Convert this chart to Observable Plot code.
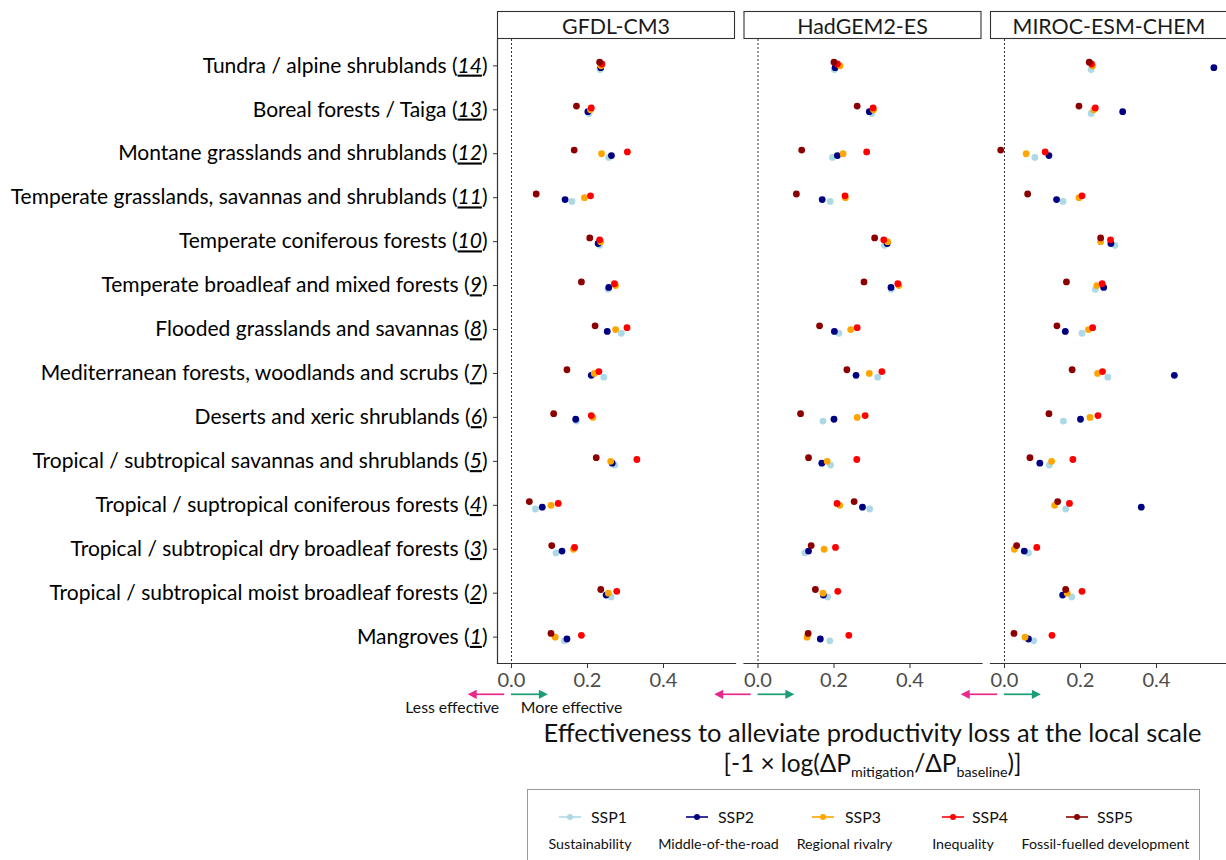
<!DOCTYPE html>
<html><head><meta charset="utf-8">
<script src="https://cdn.jsdelivr.net/npm/d3@7"></script>
<script src="https://cdn.jsdelivr.net/npm/@observablehq/plot@0.6"></script>
<style>
html,body{margin:0;padding:0;overflow:hidden;background:#fff;}
#wrap{position:relative;width:1226px;height:860px;overflow:hidden;font-family:Lato,sans-serif;}
#wrap > svg{max-width:none !important;display:block;}
#legend{position:absolute;left:527px;top:789px;width:673px;height:80px;border:1px solid #9a9a9a;box-sizing:border-box;}
.lg{position:absolute;white-space:nowrap;color:#111;}
</style></head><body><div id="wrap"></div>
<script>
// ---------- data ----------
const models = ["GFDL-CM3", "HadGEM2-ES", "MIROC-ESM-CHEM"];
const biomeNames = ["Tundra / alpine shrublands","Boreal forests / Taiga","Montane grasslands and shrublands","Temperate grasslands, savannas and shrublands","Temperate coniferous forests","Temperate broadleaf and mixed forests","Flooded grasslands and savannas","Mediterranean forests, woodlands and scrubs","Deserts and xeric shrublands","Tropical / subtropical savannas and shrublands","Tropical / suptropical coniferous forests","Tropical / subtropical dry broadleaf forests","Tropical / subtropical moist broadleaf forests","Mangroves"];
const biomeIds = [14,13,12,11,10,9,8,7,6,5,4,3,2,1];
const ssps = ["SSP1","SSP2","SSP3","SSP4","SSP5"];
const sspNames = ["Sustainability","Middle-of-the-road","Regional rivalry","Inequality","Fossil-fuelled development"];
const sspColors = ["#ADD8E6","#000080","#FFA500","#FF0000","#8B0000"];
const xTicks = [0, 0.2, 0.4];

// values per biome, in the order of biomeNames (14 -> 1)
const gfdlSSP1 = [0.233,0.204,0.256,0.159,0.232,0.254,0.289,0.243,0.171,0.272,0.063,0.117,0.262,0.139];
const gfdlSSP2 = [0.235,0.201,0.263,0.141,0.228,0.256,0.252,0.210,0.169,0.265,0.081,0.133,0.249,0.146];
const gfdlSSP3 = [0.236,0.208,0.237,0.192,0.235,0.274,0.274,0.218,0.214,0.261,0.104,0.163,0.255,0.115];
const gfdlSSP4 = [0.238,0.210,0.305,0.208,0.232,0.271,0.304,0.230,0.210,0.330,0.123,0.166,0.277,0.184];
const gfdlSSP5 = [0.232,0.171,0.165,0.065,0.206,0.184,0.220,0.146,0.111,0.223,0.047,0.106,0.235,0.104];

const hadSSP1 = [0.201,0.299,0.196,0.190,0.333,0.351,0.213,0.315,0.171,0.191,0.294,0.123,0.183,0.189];
const hadSSP2 = [0.203,0.293,0.209,0.169,0.340,0.350,0.201,0.258,0.200,0.168,0.275,0.133,0.172,0.164];
const hadSSP3 = [0.216,0.304,0.224,0.230,0.341,0.371,0.244,0.293,0.261,0.182,0.215,0.174,0.171,0.129];
const hadSSP4 = [0.209,0.303,0.286,0.229,0.331,0.368,0.261,0.326,0.282,0.260,0.208,0.204,0.210,0.239];
const hadSSP5 = [0.200,0.261,0.115,0.101,0.307,0.279,0.162,0.234,0.112,0.133,0.253,0.140,0.151,0.132];

const mirocSSP1 = [0.228,0.228,0.080,0.154,0.291,0.239,0.204,0.272,0.155,0.118,0.161,0.063,0.177,0.077];
const mirocSSP2 = [0.551,0.311,0.117,0.137,0.280,0.261,0.160,0.447,0.200,0.093,0.360,0.052,0.153,0.063];
const mirocSSP3 = [0.232,0.235,0.057,0.196,0.253,0.243,0.221,0.245,0.225,0.124,0.132,0.026,0.165,0.054];
const mirocSSP4 = [0.229,0.239,0.107,0.204,0.279,0.257,0.232,0.258,0.246,0.180,0.171,0.085,0.204,0.125];
const mirocSSP5 = [0.223,0.196,-0.010,0.061,0.253,0.163,0.138,0.178,0.117,0.067,0.140,0.032,0.161,0.025];

// effectiveness arrows (x extents) and their labels
const lessArrow = [-0.018, -0.114];
const moreArrow = [0, 0.097];
const arrowLabels = ["Less effective", "More effective"];
const axisTitle = "Effectiveness to alleviate productivity loss at the local scale";

// ---------- build table ----------
const seriesByModel = {
  "GFDL-CM3": [gfdlSSP1, gfdlSSP2, gfdlSSP3, gfdlSSP4, gfdlSSP5],
  "HadGEM2-ES": [hadSSP1, hadSSP2, hadSSP3, hadSSP4, hadSSP5],
  "MIROC-ESM-CHEM": [mirocSSP1, mirocSSP2, mirocSSP3, mirocSSP4, mirocSSP5]
};
const biomeLabels = biomeNames.map((n, i) => `${n} (${biomeIds[i]})`);
const rows = [];
for (const m of models) seriesByModel[m].forEach((arr, si) => arr.forEach((v, bi) =>
  rows.push({model: m, ssp: ssps[si], biome: biomeLabels[bi], value: v})));

// ---------- font fitting ----------
const FONT = "Lato";
const ctx = document.createElement("canvas").getContext("2d");
function fit(text, target, style = "") {
  ctx.font = `${style} 100px ${FONT}`;
  return 100 * target / ctx.measureText(text).width;
}
const ySize = fit("Temperate grasslands, savannas and shrublands (11)", 477);
const stripSize = fit("GFDL-CM3", 108);
const tickFont = fit("0.0", 28);
const titleSize = fit(axisTitle, 659);
const effSize = fit("Less effective", 94);
const sspSize = fit("SSP1", 36);
const descSize = fit("Fossil-fuelled development", 168);

// ---------- plot ----------
const W = 1228, H = 780, ML = 497, MT = 39, MB = H - 663;
const dys = [3.7, 1.85, 0, -1.85, -3.7];
const plot = Plot.plot({
  width: W, height: H,
  marginLeft: ML, marginRight: 0, marginTop: MT, marginBottom: MB,
  style: {fontFamily: FONT, color: "#000", background: "transparent", overflow: "visible", maxWidth: "none"},
  fx: {domain: models, paddingInner: 0.0345, paddingOuter: 0, round: false, axis: null, label: null},
  x: {domain: [-0.0368, 0.5895], label: null},
  y: {type: "point", domain: biomeLabels, padding: 0.6, round: false, label: null, axis: null},
  marks: [
    Plot.ruleX([0], {stroke: "#333", strokeWidth: 1, strokeDasharray: "2,2"}),
    Plot.frame({anchor: "bottom", stroke: "#333", strokeWidth: 1.2}),
    Plot.frame({anchor: "left", stroke: "#333", strokeWidth: 1.2, facetAnchor: "left"}),
    Plot.axisY({anchor: "left", tickSize: 4, tickPadding: 6, fontSize: ySize, stroke: "#333", fill: "#000", label: null}),
    Plot.axisX({ticks: xTicks, tickFormat: d3.format(".1f"), tickSize: 5, tickPadding: 4, fontSize: tickFont, stroke: "#333", fill: "#4D4D4D", label: null}),
    ...ssps.map((s, i) => Plot.dot(rows.filter(d => d.ssp === s), {
      x: "value", y: "biome", fx: "model", fill: sspColors[i], r: 3.4, dy: dys[i], stroke: "none"
    }))
  ]
});
plot.style.maxWidth = "none";

const wrap = document.getElementById("wrap");
wrap.appendChild(plot);
const svg = d3.select(plot);

// y tick labels: italic underlined biome number
svg.selectAll('g[aria-label="y-axis tick label"] text').each(function () {
  const t = d3.select(this);
  const s = t.text();
  const m = s.match(/^(.*\()(\d+)(\))$/);
  if (!m) return;
  t.text(null);
  t.append("tspan").text(m[1]);
  t.append("tspan").attr("font-style", "italic").style("text-decoration", "underline").text(m[2]);
  t.append("tspan").text(m[3]);
});

const fx = plot.scale("fx"), xs = plot.scale("x");
const bw = fx.bandwidth;
const xAbs = (m, v) => fx.apply(m) - xs.range[0] + xs.apply(v);

// facet strips
for (const m of models) {
  const x0 = fx.apply(m);
  svg.append("rect").attr("x", x0 + 0.5).attr("y", 11.5).attr("width", bw - 1).attr("height", 27)
    .attr("fill", "#fff").attr("stroke", "#333").attr("stroke-width", 1.1);
  svg.append("text").attr("x", x0 + bw / 2).attr("y", 25.5).attr("text-anchor", "middle")
    .attr("dominant-baseline", "central").attr("font-size", stripSize).attr("fill", "#1a1a1a")
    .attr("font-family", FONT).text(m);
}

// arrows
function arrow(m, a, b, color) {
  const y = 694.3, x1 = xAbs(m, a), x2 = xAbs(m, b);
  const dir = Math.sign(x2 - x1), hl = 9, hw = 4.6;
  svg.append("line").attr("x1", x1).attr("x2", x2 - dir * hl * 0.8).attr("y1", y).attr("y2", y)
    .attr("stroke", color).attr("stroke-width", 1.7);
  svg.append("path").attr("d", `M${x2},${y}L${x2 - dir * hl},${y - hw}L${x2 - dir * hl},${y + hw}Z`).attr("fill", color);
}
for (const m of models) {
  arrow(m, lessArrow[0], lessArrow[1], "#E7298A");
  arrow(m, moreArrow[0], moreArrow[1], "#1B9E77");
}
svg.append("text").attr("x", xAbs(models[0], -0.031)).attr("y", 713.3).attr("text-anchor", "end")
  .attr("font-size", effSize).attr("font-family", FONT).attr("fill", "#111").text(arrowLabels[0]);
svg.append("text").attr("x", xAbs(models[0], 0.026)).attr("y", 713.3).attr("text-anchor", "start")
  .attr("font-size", effSize).attr("font-family", FONT).attr("fill", "#111").text(arrowLabels[1]);

// axis title
const tx = 872.5;
svg.append("text").attr("x", tx).attr("y", 742).attr("text-anchor", "middle").attr("font-size", titleSize)
  .attr("font-family", FONT).attr("fill", "#111").text(axisTitle);
const t2 = svg.append("text").attr("x", tx).attr("y", 772).attr("text-anchor", "middle").attr("font-size", titleSize * 0.96)
  .attr("font-family", FONT).attr("fill", "#111");
t2.append("tspan").text("[-1 × log(ΔP");
t2.append("tspan").attr("dy", 5).attr("font-size", titleSize * 0.56).text("mitigation");
t2.append("tspan").attr("dy", -5).text("/ΔP");
t2.append("tspan").attr("dy", 5).attr("font-size", titleSize * 0.56).text("baseline");
t2.append("tspan").attr("dy", -5).text(")]");

// ---------- legend ----------
const legend = document.createElement("div");
legend.id = "legend";
wrap.appendChild(legend);
const dotX = [568.5, 696, 822, 952, 1076];
const labX = [590, 717, 844, 971, 1096];
const descX = [589, 717.5, 843.5, 962, 1104.5];
const L0 = 527, T0 = 789;
ssps.forEach((s, i) => {
  const sym = document.createElementNS("http://www.w3.org/2000/svg", "svg");
  sym.setAttribute("width", 24); sym.setAttribute("height", 10);
  sym.style.position = "absolute";
  sym.style.left = (dotX[i] - 12 - L0) + "px";
  sym.style.top = (815.5 - 5 - T0) + "px";
  sym.innerHTML = `<line x1="1" x2="23" y1="5" y2="5" stroke="${sspColors[i]}" stroke-width="1.6"/><circle cx="12" cy="5" r="3" fill="${sspColors[i]}"/>`;
  legend.appendChild(sym);
  const lab = document.createElement("div");
  lab.className = "lg"; lab.textContent = s;
  lab.style.left = (labX[i] - L0) + "px";
  lab.style.fontSize = sspSize + "px";
  lab.style.top = (815.5 - T0 - sspSize * 0.6) + "px";
  lab.style.lineHeight = (sspSize * 1.2) + "px";
  legend.appendChild(lab);
  const d = document.createElement("div");
  d.className = "lg"; d.textContent = sspNames[i];
  d.style.fontSize = descSize + "px";
  d.style.lineHeight = (descSize * 1.2) + "px";
  d.style.left = (descX[i] - L0 - 150) + "px";
  d.style.width = "300px"; d.style.textAlign = "center";
  d.style.top = (842.5 - T0 - descSize * 0.6) + "px";
  legend.appendChild(d);
});
</script></body></html>
